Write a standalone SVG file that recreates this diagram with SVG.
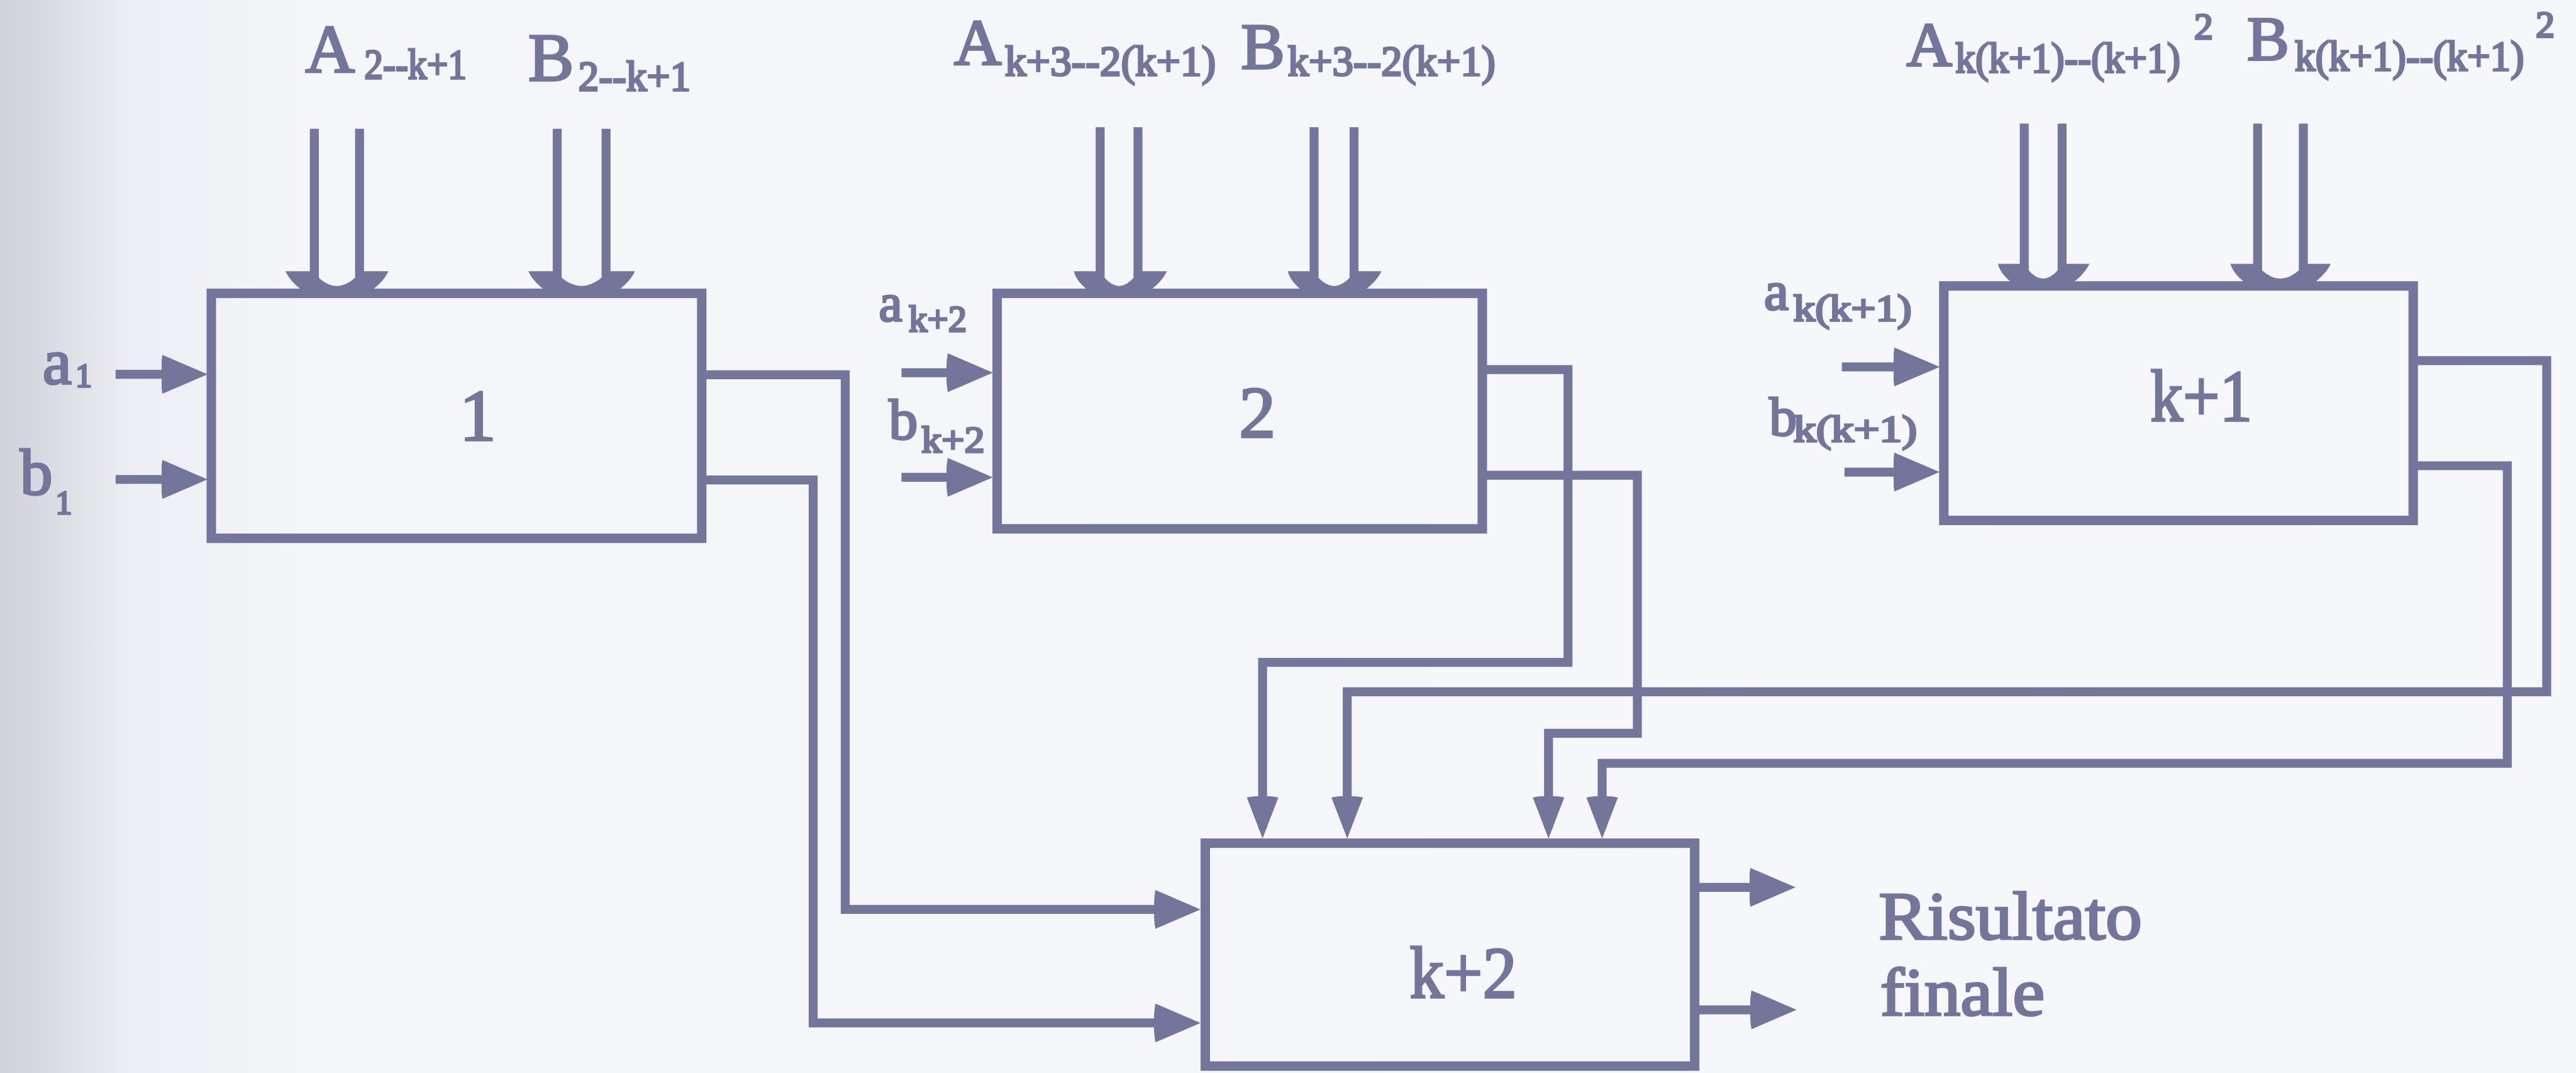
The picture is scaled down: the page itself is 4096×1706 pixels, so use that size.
<svg xmlns="http://www.w3.org/2000/svg" width="4096" height="1706" viewBox="0 0 4096 1706">
<defs>
<style>
.box{fill:none;stroke:#73769a;stroke-width:18;stroke-linejoin:miter}
.wire{fill:none;stroke:#73769a;stroke-width:17;stroke-linejoin:miter}
.bushead{fill:#73769a;stroke:none}
.t{font-family:"Liberation Serif","Times New Roman",serif;fill:#73769a;stroke:#73769a;stroke-width:4}
.big{font-size:140px}
.sub{font-size:82px}
.lab{font-size:72px}
</style>
<linearGradient id="edge" x1="0" y1="0" x2="1" y2="0">
<stop offset="0" stop-color="#cfd0d8"/>
<stop offset="0.05" stop-color="#eceef3"/>
<stop offset="0.12" stop-color="#f5f6fa"/>
<stop offset="1" stop-color="#f6f7fa"/>
</linearGradient>
<marker id="ah" viewBox="0 0 88 74" refX="68" refY="37" markerWidth="88" markerHeight="74" markerUnits="userSpaceOnUse" orient="auto">
<path d="M2,0 L88,37 L2,74 Q-4,37 2,0 Z" fill="#73769a"/>
</marker>
<marker id="av" viewBox="0 0 80 60" refX="60" refY="30" markerWidth="80" markerHeight="60" markerUnits="userSpaceOnUse" orient="auto">
<path d="M2,0 L80,30 L2,60 Q-4,30 2,0 Z" fill="#73769a"/>
</marker>
</defs>
<rect x="0" y="0" width="4096" height="1706" fill="url(#edge)"/>
<g transform="scale(0.8358)">
<g id="connectors">
<path class="wire" d="M598,245 V556 M684,245 V556 M1060,245 V556 M1153,245 V556"/>
<path class="bushead" d="M543,516 L606,516 L606,528 Q641,560 676,528 L676,516 L739,516 Q729,538 699,558 L583,558 Q553,538 543,516 Z"/>
<path class="bushead" d="M1005,516 L1068,516 L1068,528 Q1106,560 1145,528 L1145,516 L1208,516 Q1198,538 1168,558 L1045,558 Q1015,538 1005,516 Z"/>
<path class="wire" d="M2093,242 V556 M2165,242 V556 M2500,242 V556 M2576,242 V556"/>
<path class="bushead" d="M2043,516 L2101,516 L2101,528 Q2129,560 2157,528 L2157,516 L2220,516 Q2210,538 2180,558 L2078,558 Q2048,538 2043,516 Z"/>
<path class="bushead" d="M2450,516 L2508,516 L2508,528 Q2538,560 2568,528 L2568,516 L2628,516 Q2618,538 2588,558 L2485,558 Q2455,538 2450,516 Z"/>
<path class="wire" d="M3851,235 V542 M3923,235 V542 M4295,235 V542 M4382,235 V542"/>
<path class="bushead" d="M3801,502 L3859,502 L3859,514 Q3887,546 3915,514 L3915,502 L3975,502 Q3965,524 3935,544 L3836,544 Q3806,524 3801,502 Z"/>
<path class="bushead" d="M4243,502 L4303,502 L4303,514 Q4338,546 4374,514 L4374,502 L4434,502 Q4424,524 4394,544 L4280,544 Q4250,524 4243,502 Z"/>
<path class="wire" marker-end="url(#ah)" d="M220,712 H375"/>
<path class="wire" marker-end="url(#ah)" d="M220,912 H375"/>
<path class="wire" marker-end="url(#ah)" d="M1715,709 H1869"/>
<path class="wire" marker-end="url(#ah)" d="M1715,908 H1869"/>
<path class="wire" marker-end="url(#ah)" d="M3504,698 H3670"/>
<path class="wire" marker-end="url(#ah)" d="M3509,898 H3670"/>
<path class="wire" marker-end="url(#ah)" d="M1335,713 H1608 V1730 H2264"/>
<path class="wire" marker-end="url(#ah)" d="M1335,913 H1547 V1946 H2264"/>
<path class="wire" marker-end="url(#av)" d="M2820,703 H2983 V1260 H2402 V1575"/>
<path class="wire" marker-end="url(#av)" d="M2820,904 H3115 V1395 H2946 V1575"/>
<path class="wire" marker-end="url(#av)" d="M4591,686 H4845 V1316 H2563 V1575"/>
<path class="wire" marker-end="url(#av)" d="M4591,886 H4770 V1452 H3048 V1575"/>
<path class="wire" marker-end="url(#ah)" d="M3224,1688 H3396"/>
<path class="wire" marker-end="url(#ah)" d="M3224,1921 H3398"/>
</g>
<g id="node-1">
<rect class="box" x="402" y="558" width="933" height="466" fill="none"/>
<text class="t big" x="909" y="838" text-anchor="middle">1</text>
<text class="t" style="font-size:130px" x="581" y="137">A</text>
<text class="t sub" x="693" y="150" textLength="195" lengthAdjust="spacingAndGlyphs">2--k+1</text>
<text class="t" style="font-size:130px" x="1005" y="153">B</text>
<text class="t sub" x="1100" y="172" textLength="214" lengthAdjust="spacingAndGlyphs">2--k+1</text>
<text class="t" style="font-size:124px" x="81" y="730">a</text>
<text class="t" style="font-size:62px" x="144" y="736">1</text>
<text class="t" style="font-size:124px" x="38" y="940">b</text>
<text class="t" style="font-size:62px" x="106" y="978">1</text>
</g>
<g id="node-2">
<rect class="box" x="1897" y="558" width="923" height="448" fill="none"/>
<text class="t big" x="2392" y="831" text-anchor="middle">2</text>
<text class="t" style="font-size:125px" x="1815" y="123">A</text>
<text class="t sub" x="1912" y="144" textLength="401" lengthAdjust="spacingAndGlyphs">k+3--2(k+1)</text>
<text class="t" style="font-size:125px" x="2361" y="130">B</text>
<text class="t sub" x="2450" y="144" textLength="395" lengthAdjust="spacingAndGlyphs">k+3--2(k+1)</text>
<text class="t" style="font-size:100px" x="1672" y="610">a</text>
<text class="t lab" x="1729" y="631" textLength="110" lengthAdjust="spacingAndGlyphs">k+2</text>
<text class="t" style="font-size:110px" x="1691" y="835">b</text>
<text class="t lab" x="1753" y="860" textLength="120" lengthAdjust="spacingAndGlyphs">k+2</text>
</g>
<g id="node-k1">
<rect class="box" x="3698" y="544" width="893" height="446" fill="none"/>
<text class="t big" x="4188" y="800" text-anchor="middle" textLength="194" lengthAdjust="spacingAndGlyphs">k+1</text>
<text class="t" style="font-size:120px" x="3627" y="126">A</text>
<text class="t sub" x="3720" y="138" textLength="428" lengthAdjust="spacingAndGlyphs">k(k+1)--(k+1)</text>
<text class="t" style="font-size:72px" x="4174" y="74">2</text>
<text class="t" style="font-size:120px" x="4275" y="114">B</text>
<text class="t sub" x="4366" y="134" textLength="436" lengthAdjust="spacingAndGlyphs">k(k+1)--(k+1)</text>
<text class="t" style="font-size:72px" x="4824" y="70">2</text>
<text class="t" style="font-size:105px" x="3356" y="589">a</text>
<text class="t lab" x="3412" y="610" textLength="225" lengthAdjust="spacingAndGlyphs">k(k+1)</text>
<text class="t" style="font-size:105px" x="3366" y="828">b</text>
<text class="t lab" x="3412" y="840" textLength="235" lengthAdjust="spacingAndGlyphs">k(k+1)</text>
</g>
<g id="node-k2">
<rect class="box" x="2293" y="1604" width="931" height="424" fill="none"/>
<text class="t big" x="2784" y="1898" text-anchor="middle" textLength="204" lengthAdjust="spacingAndGlyphs">k+2</text>
</g>
<g id="result">
<text class="t" style="font-size:128px" x="3574" y="1786" textLength="501" lengthAdjust="spacingAndGlyphs">Risultato</text>
<text class="t" style="font-size:128px" x="3577" y="1931" textLength="313" lengthAdjust="spacingAndGlyphs">finale</text>
</g>
</g>
</svg>
